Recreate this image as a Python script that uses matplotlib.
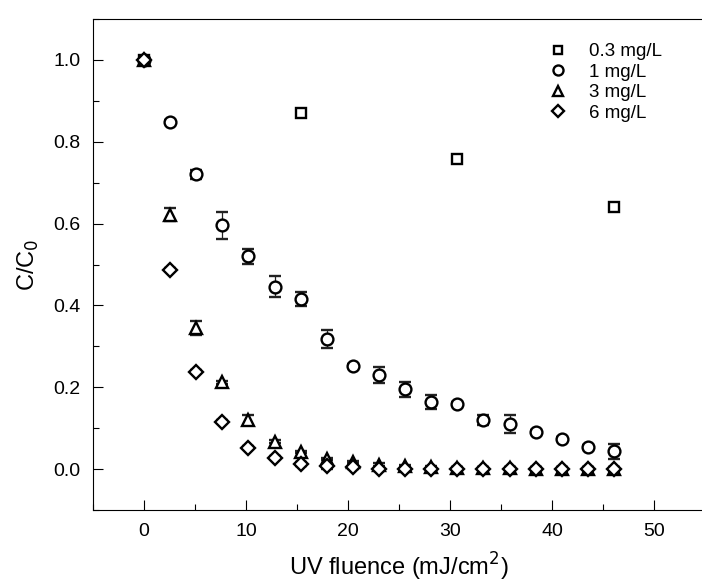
"""Figure: C/C0 decay vs UV fluence for four dose levels."""

import matplotlib
matplotlib.use("Agg")
import matplotlib.pyplot as plt
from matplotlib.ticker import MultipleLocator

plt.rcParams["font.family"] = ["Liberation Sans", "DejaVu Sans"]

# UV fluence steps (mJ/cm2)
fluence = [0, 2.56, 5.12, 7.68, 10.24, 12.8, 15.36, 17.92, 20.48, 23.04,
           25.6, 28.16, 30.72, 33.28, 35.84, 38.4, 40.96, 43.52, 46.08]

fluence_03 = [0, 15.36, 30.72, 46.08]
c_03 = [1.0, 0.87, 0.758, 0.641]
err_03 = [0, 0.004, 0.004, 0.004]

c_1 = [1.0, 0.849, 0.72, 0.596, 0.52, 0.446, 0.416, 0.318, 0.253, 0.23,
       0.195, 0.165, 0.158, 0.12, 0.11, 0.09, 0.073, 0.053, 0.043]
err_1 = [0, 0.005, 0.011, 0.033, 0.019, 0.026, 0.017, 0.022, 0.005, 0.02,
         0.018, 0.017, 0.005, 0.013, 0.022, 0.005, 0.005, 0.005, 0.018]

c_3 = [1.0, 0.622, 0.345, 0.212, 0.12, 0.067, 0.042, 0.025, 0.017, 0.011,
       0.007, 0.005, 0.003, 0.002, 0.002, 0.001, 0.001, 0.001, 0.001]
err_3 = [0, 0.016, 0.018, 0.004, 0.012, 0.003, 0.003, 0.003, 0.003, 0.003,
         0.003, 0.003, 0.003, 0.003, 0.003, 0.003, 0.003, 0.003, 0.003]

c_6 = [1.0, 0.487, 0.238, 0.116, 0.052, 0.028, 0.013, 0.007, 0.004, 0.001,
       0.0, 0.0, 0.0, 0.0, 0.0, 0.0, 0.0, 0.0, 0.0]
err_6 = [0, 0.004, 0.004, 0.004, 0.004, 0.004, 0.005, 0.007, 0.005, 0.004,
         0.004, 0.004, 0.004, 0.004, 0.004, 0.004, 0.004, 0.004, 0.004]

series = [
    ("0.3 mg/L", fluence_03, c_03, err_03, "s", 7),
    ("1 mg/L", fluence, c_1, err_1, "o", 8.5),
    ("3 mg/L", fluence, c_3, err_3, "^", 9),
    ("6 mg/L", fluence, c_6, err_6, "D", 7.5),
]

fig = plt.figure(figsize=(7.02, 5.83), dpi=100)
ax = fig.add_axes([93 / 702, 1 - 510 / 583, 612 / 702, 491 / 583])

for label, x, y, e, mk, ms in series:
    ax.errorbar(x, y, yerr=e, fmt=mk, ms=ms, mfc="white", mec="black",
                mew=1.7, ecolor="#222222", elinewidth=0.9, capsize=4,
                capthick=0.9, label=label)

ax.set_xlim(-5, 55)
ax.set_ylim(-0.1, 1.1)
ax.spines["right"].set_visible(False)
ax.xaxis.set_major_locator(MultipleLocator(10))
ax.xaxis.set_minor_locator(MultipleLocator(5))
ax.yaxis.set_major_locator(MultipleLocator(0.2))
ax.yaxis.set_minor_locator(MultipleLocator(0.1))
ax.tick_params(which="both", direction="in", labelsize=14, width=0.8,
               right=False, top=False)
ax.tick_params(which="major", length=7, pad=9)
ax.tick_params(which="minor", length=4)
ax.yaxis.set_major_formatter(plt.FuncFormatter(lambda v, p: f"{v:.1f}"))

ax.set_xlabel("UV fluence (mJ/cm$^2$)", fontsize=17, labelpad=8)
ax.set_ylabel("C/C$_0$", fontsize=17, labelpad=9)

handles, labels = ax.get_legend_handles_labels()
handles = [h[0] for h in handles]
leg = ax.legend(handles, labels, loc="upper right", bbox_to_anchor=(0.957, 0.985),
                frameon=False, fontsize=13.5, handletextpad=0.9, labelspacing=0.18,
                markerscale=0.85, handlelength=1.5)

fig.savefig("out.png", dpi=100)
